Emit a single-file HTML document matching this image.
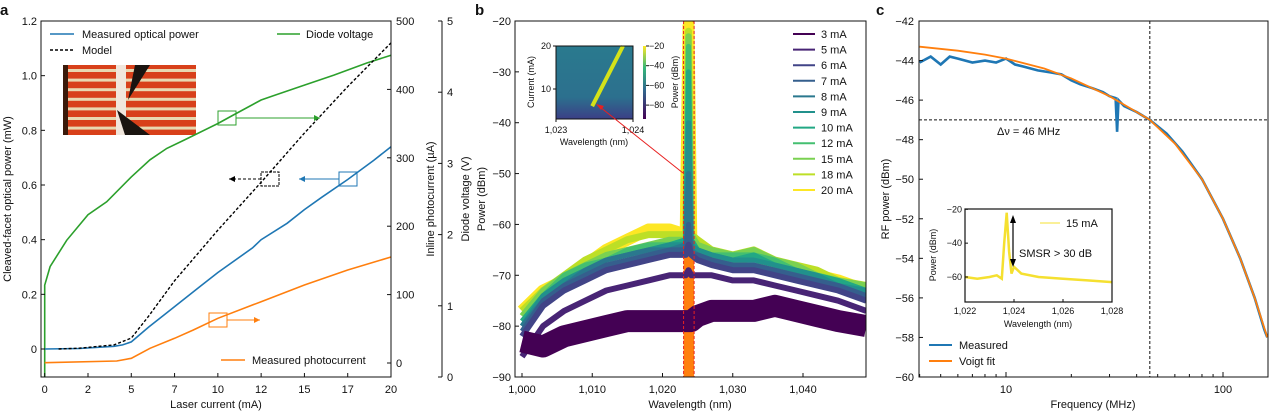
<!DOCTYPE html>
<html><head><meta charset="utf-8"><style>
body{margin:0;background:#fff}
svg{display:block;font-family:"Liberation Sans",Arial,sans-serif}
</style></head><body>
<svg id="fig" width="1269" height="414" viewBox="0 0 1269 414"></svg>
<script>
// ===== Panel a data =====
const aOptCur=[0,2,4,4.5,5,6,7,7.5,9,10,12,12.5,14,15,16,17.5,19,20];
const aOptPow=[0,0.002,0.01,0.015,0.026,0.08,0.13,0.155,0.23,0.28,0.37,0.4,0.46,0.51,0.555,0.62,0.69,0.74];
const aModelCur=[0.8,2,4,5,6,7.5,10,12.5,15,17.5,20];
const aModelPow=[0,0.003,0.015,0.04,0.12,0.25,0.435,0.61,0.79,0.96,1.12];
const aVoltCur=[0,0,0.31,1.27,2.5,3.58,5,6.08,7.05,8.08,10,10.9,12.5,13.2,15,16.7,18.6,20];
const aVolt=[0,1.29,1.55,1.92,2.28,2.46,2.81,3.05,3.21,3.33,3.56,3.68,3.89,3.95,4.1,4.24,4.41,4.52];
const aPhotoCur=[0,4.16,5,6.08,7.5,8.58,10,12.5,15,17.5,20];
const aPhoto=[0.4,2.9,6.8,21.5,36.1,48.2,65.3,89.6,114,136,155];
const aXTicks=[0,2.5,5,7.5,10,12.5,15,17.5,20];
const aXTickLabels=["0","2","5","7","10","12","15","17","20"];
const aYTicks=[0,0.2,0.4,0.6,0.8,1.0,1.2];
const aYTickLabels=["0","0.2","0.4","0.6","0.8","1.0","1.2"];
const aPhTicks=[0,100,200,300,400,500];
const aVTicks=[0,1,2,3,4,5];
// ===== Panel b data =====
const bWl=[1000,1003,1006,1009,1012,1015,1018,1021,1023.3,1023.7,1024.1,1025,1027,1030,1033,1036,1039,1042,1045,1049];
const bLabels=["3 mA","5 mA","6 mA","7 mA","8 mA","9 mA","10 mA","12 mA","15 mA","18 mA","20 mA"];
const bColors=["#440154","#482475","#414487","#355f8d","#2a788e","#21918c","#22a884","#44bf70","#7ad151","#bddf26","#fde725"];
const b3=[-83,-84,-82,-81,-80,-79,-79,-79,-79,-79,-79,-78,-77,-77,-77,-76,-77,-78,-79,-80];
const b5=[-86,-80,-77,-75,-73,-72,-71,-70,-70,-69,-70,-70,-70,-71,-71,-72,-73,-74,-75,-77];
const b6=[-82,-76,-73,-71,-69,-68,-67,-66,-66,-64,-66,-67,-68,-69,-69,-70,-71,-72,-73,-75];
const b7=[-81,-75,-72,-70,-68,-67,-66,-65,-65,-60,-66,-66,-67,-68,-68,-69,-70,-71,-72,-74];
const b8=[-80,-75,-72,-69,-67,-66,-65,-65,-64,-50,-65,-66,-67,-68,-68,-69,-70,-71,-72,-74];
const b9=[-80,-74,-71,-69,-67,-66,-65,-64,-64,-40,-64,-65,-66,-67,-67,-68,-69,-70,-72,-73];
const b10=[-79,-74,-71,-69,-67,-66,-65,-64,-63,-30,-63,-65,-66,-67,-66,-68,-69,-70,-71,-73];
const b12=[-79,-74,-70,-68,-67,-65,-64,-64,-63,-25,-63,-65,-66,-66,-66,-67,-69,-70,-71,-73];
const b15=[-78,-73,-70,-68,-66,-65,-64,-63,-63,-23,-62,-64,-65,-66,-65,-67,-68,-70,-71,-72];
const b18=[-77,-73,-70,-67,-65,-63,-62,-62,-62,-22,-62,-63,-65,-66,-65,-67,-68,-69,-71,-72];
const b20=[-77,-73,-71,-68,-65,-63,-61,-61,-62,-21,-63,-64,-66,-67,-66,-68,-69,-70,-71,-73];
const bXTicks=[1000,1010,1020,1030,1040];
const bXTickLabels=["1,000","1,010","1,020","1,030","1,040"];
const bYTicks=[-90,-80,-70,-60,-50,-40,-30,-20];
// ===== Panel c data =====
const cFitF=[4,6,8,10,15,20,30,40,46,60,80,100,120,140,160];
const cFitP=[-43.3,-43.5,-43.7,-43.9,-44.4,-44.9,-45.8,-46.6,-47.0,-48.2,-50.0,-52.0,-54.0,-56.0,-58.0];
const cMeasF=[4,4.5,5,5.5,6,7,8,9,10,11,12,14,16,18,20,22,25,28,30,32,32.5,33,35,40,46,55,65,80,100,120,140,155,160];
const cMeasP=[-44.1,-43.8,-44.2,-43.8,-43.9,-44.1,-44.0,-44.1,-43.9,-44.2,-44.3,-44.5,-44.6,-44.7,-45.0,-45.2,-45.4,-45.6,-45.8,-45.9,-47.6,-46.0,-46.3,-46.6,-47.0,-47.7,-48.6,-50.0,-52.0,-54.0,-56.0,-57.6,-58.0];
const cYTicks=[-60,-58,-56,-54,-52,-50,-48,-46,-44,-42];
const cInsWl=[1022,1022.5,1023,1023.3,1023.5,1023.6,1023.7,1023.8,1023.9,1024,1024.3,1025,1026,1027,1028];
const cInsP=[-60,-61,-60,-59,-61,-40,-22,-45,-58,-54,-58,-60,-61,-62,-63];
const cInsXTicks=[1022,1024,1026,1028];
const cInsXTickLabels=["1,022","1,024","1,026","1,028"];
const cInsYTicks=[-60,-40,-20];

const svg=document.getElementById('fig');
const NS='http://www.w3.org/2000/svg';
function el(tag,attrs,parent){const e=document.createElementNS(NS,tag);for(const k in attrs)e.setAttribute(k,attrs[k]);(parent||svg).appendChild(e);return e;}
function txt(x,y,s,size,anchor,parent,extra){const t=el('text',Object.assign({x:x,y:y,'font-size':size,'text-anchor':anchor||'start',fill:'#111'},extra||{}),parent);t.textContent=s;return t;}
function poly(xs,ys,fx,fy,attrs,parent){const pts=xs.map((v,i)=>fx(v).toFixed(1)+','+fy(ys[i]).toFixed(1)).join(' ');return el('polyline',Object.assign({points:pts,fill:'none'},attrs),parent);}
function lin(d0,d1,r0,r1){return v=>r0+(v-d0)/(d1-d0)*(r1-r0);}

// ---------------- Panel a ----------------
const ga=el('g',{});


const ax=lin(0,20,44.7,391), ay=lin(0,1.2,349,21), aph=lin(0,500,363,21), av=lin(0,5,377,21);
txt(0,15,'a',15,'start',ga,{'font-weight':'bold'});
const ph=el('g',{},ga);


el('rect',{x:63,y:65,width:133,height:70,fill:'#d8401a'},ph);
for(let i=0;i<7;i++){el('rect',{x:68,y:69+i*9.6,width:128,height:3,fill:'#e8d8b0'},ph);}
el('rect',{x:63,y:65,width:5,height:70,fill:'#3a1a0a'},ph);
el('rect',{x:116,y:65,width:10,height:70,fill:'#f0e6dc'},ph);
el('polygon',{points:'128,100 135,65 150,65',fill:'#1a1410'},ph);
el('polygon',{points:'117,110 150,135 125,135',fill:'#1a1410'},ph);
poly(aVoltCur,aVolt,ax,av,{stroke:'#2ca02c','stroke-width':1.6},ga);
poly(aPhotoCur,aPhoto,ax,aph,{stroke:'#ff7f0e','stroke-width':1.6},ga);
poly(aOptCur,aOptPow,ax,ay,{stroke:'#1f77b4','stroke-width':1.6},ga);
poly(aModelCur,aModelPow,ax,ay,{stroke:'#000','stroke-width':1.4,'stroke-dasharray':'3,2'},ga);
function ann(bx,by,c,x2,dash,name){const g=el('g',{},ga);
 el('rect',{x:bx,y:by,width:18,height:14,fill:'none',stroke:c,'stroke-width':1,'stroke-dasharray':dash?'3,1':'none'},g);
 const yy=by+7, x1=x2>bx?bx+18:bx; el('line',{x1:x1,y1:yy,x2:x2,y2:yy,stroke:c,'stroke-width':1,'stroke-dasharray':dash?'3,2':'none'},g);
 const d=x2>x1?-1:1; el('polygon',{points:`${x2},${yy} ${x2+d*6},${yy-3} ${x2+d*6},${yy+3}`,fill:c},g);}
ann(218,111,'#2ca02c',320,false,'voltage-annotation');
ann(261,172,'#000',229,true,'model-annotation');
ann(339,172,'#1f77b4',299,false,'optical-annotation');
ann(209,313,'#ff7f0e',260,false,'photocurrent-annotation');
el('rect',{x:41,y:21,width:350,height:356,fill:'none',stroke:'#111','stroke-width':1},ga);
aXTicks.forEach((v,i)=>{el('line',{x1:ax(v),y1:377,x2:ax(v),y2:373,stroke:'#111'},ga);txt(ax(v),393,aXTickLabels[i],11,'middle',ga);});
aYTicks.forEach((v,i)=>{el('line',{x1:41,y1:ay(v),x2:45,y2:ay(v),stroke:'#111'},ga);txt(37,ay(v)+4,aYTickLabels[i],11,'end',ga);});
aPhTicks.forEach(v=>{el('line',{x1:391,y1:aph(v),x2:387,y2:aph(v),stroke:'#111'},ga);txt(396,aph(v)+4,String(v),11,'start',ga);});
el('line',{x1:442,y1:21,x2:442,y2:377,stroke:'#111'},ga);
aVTicks.forEach(v=>{el('line',{x1:438,y1:av(v),x2:442,y2:av(v),stroke:'#111'},ga);txt(447,av(v)+4,String(v),11,'start',ga);});
txt(216,408,'Laser current (mA)',11,'middle',ga);
txt(0,0,'Cleaved-facet optical power (mW)',11,'middle',ga,{transform:'translate(11,199) rotate(-90)'});
txt(0,0,'Inline photocurrent (µA)',11,'middle',ga,{transform:'translate(434,199) rotate(-90)'});
txt(0,0,'Diode voltage (V)',11,'middle',ga,{transform:'translate(469,199) rotate(-90)'});
const la=el('g',{},ga);
el('line',{x1:50,y1:34,x2:74,y2:34,stroke:'#1f77b4','stroke-width':1.6},la);txt(82,38,'Measured optical power',11,'start',la);
el('line',{x1:50,y1:50,x2:74,y2:50,stroke:'#000','stroke-width':1.4,'stroke-dasharray':'3,2'},la);txt(82,54,'Model',11,'start',la);
el('line',{x1:277,y1:34,x2:300,y2:34,stroke:'#2ca02c','stroke-width':1.6},la);txt(306,38,'Diode voltage',11,'start',la);
el('line',{x1:221,y1:360,x2:245,y2:360,stroke:'#ff7f0e','stroke-width':1.6},la);txt(252,364,'Measured photocurrent',11,'start',la);

// ---------------- Panel b ----------------
const gb=el('g',{});


const bx=lin(1000,1040,522,803), by=lin(-90,-20,377,21);
txt(475,15,'b',15,'start',gb,{'font-weight':'bold'});
el('clipPath',{id:'cb'},gb);
el('rect',{x:515,y:21,width:351,height:356},document.getElementById('cb'));
const cg=el('g',{'clip-path':'url(#cb)'},gb);
el('rect',{x:bx(1023),y:21,width:bx(1024.5)-bx(1023),height:356,fill:'#ff7f0e'},cg);
const bSeries=[b3,b5,b6,b7,b8,b9,b10,b12,b15,b18,b20];
const bWidths=[22,6,6,5,5,5,5,5,6,7,12];
for(let k=bSeries.length-1;k>=0;k--){
 const p=poly(bWl,bSeries[k],bx,by,{stroke:bColors[k],'stroke-width':bWidths[k],'stroke-linejoin':'round'},cg);
 
 
}
el('line',{x1:bx(1023),y1:21,x2:bx(1023),y2:377,stroke:'#e82020','stroke-width':1,'stroke-dasharray':'3,2'},cg);
el('line',{x1:bx(1024.5),y1:21,x2:bx(1024.5),y2:377,stroke:'#e82020','stroke-width':1,'stroke-dasharray':'3,2'},cg);
el('rect',{x:515,y:21,width:351,height:356,fill:'none',stroke:'#111'},gb);
bXTicks.forEach((v,i)=>{el('line',{x1:bx(v),y1:377,x2:bx(v),y2:373,stroke:'#111'},gb);txt(bx(v),393,bXTickLabels[i],11,'middle',gb);});
bYTicks.forEach(v=>{el('line',{x1:515,y1:by(v),x2:519,y2:by(v),stroke:'#111'},gb);txt(511,by(v)+4,'\u2212'+Math.abs(v),11,'end',gb);});
txt(690,408,'Wavelength (nm)',11,'middle',gb);
txt(0,0,'Power (dBm)',11,'middle',gb,{transform:'translate(485,199) rotate(-90)'});
const lb=el('g',{},gb);
bLabels.forEach((s,i)=>{const y=34+i*15.6;el('line',{x1:793,y1:y,x2:815,y2:y,stroke:bColors[i],'stroke-width':2},lb);txt(821,y+4,s,11,'start',lb);});
const ib=el('g',{},gb);
const defs=el('defs',{},svg);
const lg=el('linearGradient',{id:'hm',x1:0,y1:0,x2:0,y2:1},defs);
el('stop',{offset:'0','stop-color':'#2a7a8e'},lg);el('stop',{offset:'0.7','stop-color':'#2c708e'},lg);el('stop',{offset:'1','stop-color':'#3b3f86'},lg);
const cbg=el('linearGradient',{id:'cbar',x1:0,y1:0,x2:0,y2:1},defs);
el('stop',{offset:'0','stop-color':'#fde725'},cbg);el('stop',{offset:'0.3','stop-color':'#35b779'},cbg);el('stop',{offset:'0.6','stop-color':'#31688e'},cbg);el('stop',{offset:'1','stop-color':'#440154'},cbg);
el('rect',{x:556,y:46,width:77,height:73,fill:'url(#hm)'},ib);
const ix=lin(1023,1024,556,633), iy=lin(0,20,132,46);
el('line',{x1:ix(1023.47),y1:iy(6),x2:ix(1023.87),y2:iy(20),stroke:'#d4e21a','stroke-width':4},ib);
el('rect',{x:556,y:46,width:77,height:73,fill:'none',stroke:'#111'},ib);
[1023,1024].forEach((v,i)=>{el('line',{x1:ix(v),y1:119,x2:ix(v),y2:122,stroke:'#111'},ib);txt(ix(v),133,['1,023','1,024'][i],9,'middle',ib);});
[10,20].forEach(v=>{el('line',{x1:553,y1:iy(v),x2:556,y2:iy(v),stroke:'#111'},ib);txt(551,iy(v)+3,String(v),9,'end',ib);});
txt(594,145,'Wavelength (nm)',9,'middle',ib);
txt(0,0,'Current (mA)',9,'middle',ib,{transform:'translate(534,82) rotate(-90)'});
el('rect',{x:643,y:46,width:3,height:73,fill:'url(#cbar)'},ib);
[-20,-40,-60,-80].forEach((v,i)=>{const y=46+i*19.7;el('line',{x1:646,y1:y,x2:649,y2:y,stroke:'#111'},ib);txt(649,y+3,'\u2212'+Math.abs(v),9,'start',ib);});
txt(0,0,'Power (dBm)',9,'middle',ib,{transform:'translate(678,82) rotate(-90)'});
el('line',{x1:683,y1:173,x2:600,y2:107,stroke:'#e82020','stroke-width':1},gb);
el('polygon',{points:'596,104 604,106 601,110',fill:'#e82020'},gb);

// ---------------- Panel c ----------------
const gc=el('g',{});


const cx=v=>1006+(Math.log10(v)-1)*217, cy=lin(-60,-42,377,21);
txt(876,15,'c',15,'start',gc,{'font-weight':'bold'});
el('line',{x1:919,y1:cy(-47),x2:1268,y2:cy(-47),stroke:'#111','stroke-dasharray':'3,2'},gc);
el('line',{x1:cx(46),y1:21,x2:cx(46),y2:377,stroke:'#111','stroke-dasharray':'3,2'},gc);
poly(cMeasF,cMeasP,cx,cy,{stroke:'#1f77b4','stroke-width':2.6},gc);
poly(cFitF,cFitP,cx,cy,{stroke:'#ff7f0e','stroke-width':1.8},gc);
el('rect',{x:919,y:21,width:349,height:356,fill:'none',stroke:'#111'},gc);
cYTicks.forEach(v=>{el('line',{x1:919,y1:cy(v),x2:923,y2:cy(v),stroke:'#111'},gc);txt(914,cy(v)+4,'\u2212'+Math.abs(v),11,'end',gc);});
[4,5,6,7,8,9,20,30,40,50,60,70,80,90].forEach(v=>{el('line',{x1:cx(v),y1:377,x2:cx(v),y2:374,stroke:'#111'},gc);});
[10,100].forEach(v=>{el('line',{x1:cx(v),y1:377,x2:cx(v),y2:372,stroke:'#111'},gc);txt(cx(v),393,String(v),11,'middle',gc);});
txt(1093,408,'Frequency (MHz)',11,'middle',gc);
txt(0,0,'RF power (dBm)',11,'middle',gc,{transform:'translate(889,199) rotate(-90)'});
txt(997,135,'\u0394\u03bd = 46 MHz',11,'start',gc);
const lc=el('g',{},gc);
el('line',{x1:929,y1:345,x2:952,y2:345,stroke:'#1f77b4','stroke-width':2},lc);txt(959,349,'Measured',11,'start',lc);
el('line',{x1:929,y1:361,x2:952,y2:361,stroke:'#ff7f0e','stroke-width':2},lc);txt(959,365,'Voigt fit',11,'start',lc);
const ic=el('g',{},gc);
el('rect',{x:965,y:209,width:147,height:93,fill:'#fff'},ic);
const icx=lin(1022,1028,965,1112), icy=lin(-20,-60,209.3,277);
poly(cInsWl,cInsP,icx,icy,{stroke:'#f5e030','stroke-width':2.5},ic);
el('rect',{x:965,y:209,width:147,height:93,fill:'none',stroke:'#111','stroke-width':1.2},ic);
cInsXTicks.forEach((v,i)=>{el('line',{x1:icx(v),y1:302,x2:icx(v),y2:299,stroke:'#111'},ic);txt(icx(v),314,cInsXTickLabels[i],9,'middle',ic);});
cInsYTicks.forEach(v=>{el('line',{x1:965,y1:icy(v),x2:968,y2:icy(v),stroke:'#111'},ic);txt(962,icy(v)+3,'\u2212'+Math.abs(v),9,'end',ic);});
txt(1038,327,'Wavelength (nm)',9,'middle',ic);
txt(0,0,'Power (dBm)',9,'middle',ic,{transform:'translate(936,255) rotate(-90)'});
el('line',{x1:1013,y1:221,x2:1013,y2:261,stroke:'#000','stroke-width':1.2},ic);
el('polygon',{points:'1013,215 1010,223 1016,223',fill:'#000'},ic);
el('polygon',{points:'1013,267 1010,259 1016,259',fill:'#000'},ic);
el('line',{x1:1040,y1:223,x2:1060,y2:223,stroke:'#f5e030','stroke-width':1},ic);
txt(1066,227,'15 mA',11,'start',ic);
txt(1019,257,'SMSR > 30 dB',11,'start',ic);
</script>
</body></html>
